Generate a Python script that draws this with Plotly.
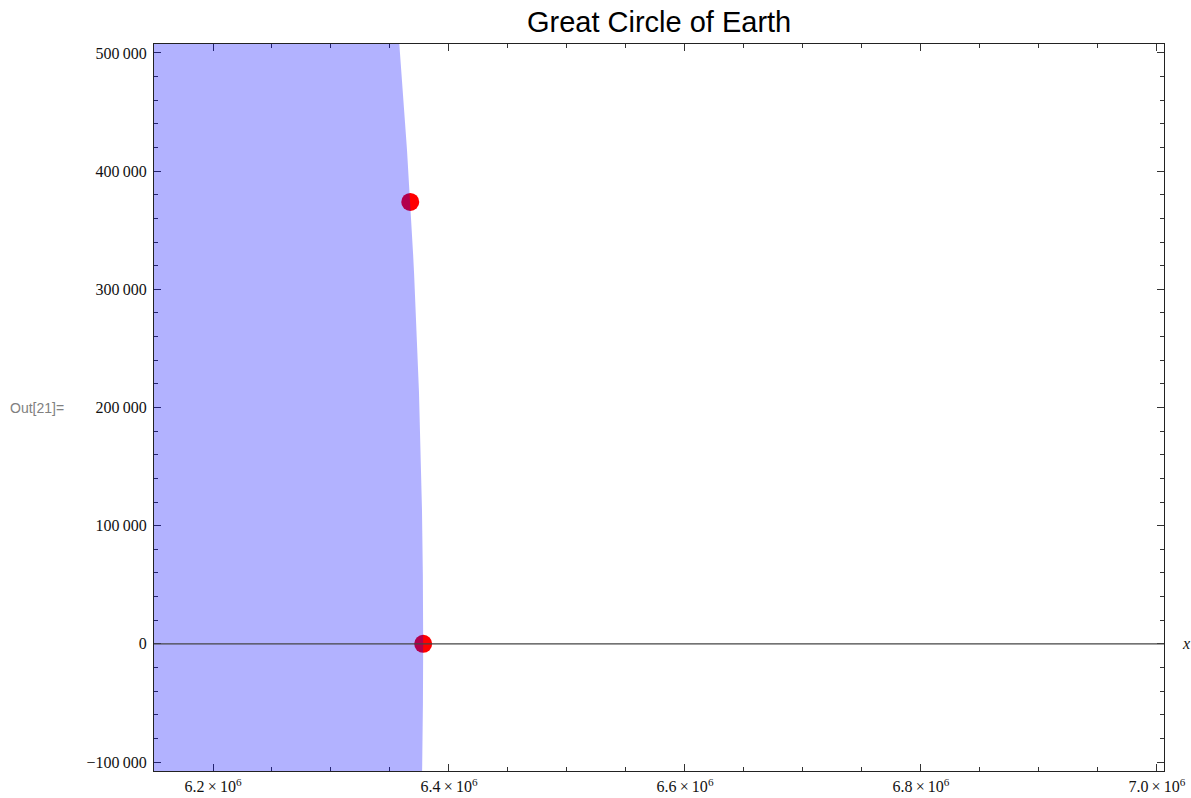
import plotly.graph_objects as go

# Earth's equatorial radius (m) and two marked points on the great circle
earth_radius = 6378137
point_x = [6378137, 6367170]
point_y = [0, 374000]

# Axis ticks
x_tick_vals = [6.2e6, 6.4e6, 6.6e6, 6.8e6, 7.0e6]
x_tick_text = ["6.2\u2009×\u200910<sup>6</sup>", "6.4\u2009×\u200910<sup>6</sup>",
               "6.6\u2009×\u200910<sup>6</sup>", "6.8\u2009×\u200910<sup>6</sup>",
               "7.0\u2009×\u200910<sup>6</sup>"]
y_tick_vals = [-100000, 0, 100000, 200000, 300000, 400000, 500000]
y_tick_text = ["\u2212100\u2009000", "0", "100\u2009000", "200\u2009000",
               "300\u2009000", "400\u2009000", "500\u2009000"]

x_range = [6.15e6, 7.006e6]
y_range = [-107600, 507600]

fig = go.Figure()

fig.add_trace(go.Scatter(
    x=point_x, y=point_y, mode="markers",
    marker=dict(color="#ff0000", size=18, line=dict(width=0)),
    showlegend=False, hoverinfo="skip",
))

# Disk of the Earth, translucent blue over the points
fig.add_shape(
    type="circle", xref="x", yref="y",
    x0=-earth_radius, x1=earth_radius, y0=-earth_radius, y1=earth_radius,
    fillcolor="rgba(0,0,255,0.3)", line=dict(width=0), layer="above",
)
# Horizontal axis at y = 0
fig.add_shape(
    type="line", xref="paper", yref="y", x0=0, x1=1, y0=0, y1=0,
    line=dict(color="#444444", width=1.2), layer="above",
)

fig.update_xaxes(
    range=x_range, showgrid=False, zeroline=False, automargin=False,
    showline=True, linecolor="#222222", linewidth=1.2, mirror="ticks",
    ticks="inside", ticklen=7, tickwidth=1, tickcolor="#333333",
    tickvals=x_tick_vals, ticktext=x_tick_text, ticklabelstandoff=1,
    tickfont=dict(family="Liberation Serif", size=16, color="#111111"),
    minor=dict(ticks="inside", ticklen=4, tickwidth=1, tickcolor="#333333",
               dtick=50000, tick0=6.2e6, showgrid=False),
)
fig.update_yaxes(
    range=y_range, showgrid=False, zeroline=False, automargin=False,
    showline=True, linecolor="#222222", linewidth=1.2, mirror="ticks",
    ticks="inside", ticklen=7, tickwidth=1, tickcolor="#333333",
    tickvals=y_tick_vals, ticktext=y_tick_text, ticklabelstandoff=3,
    tickfont=dict(family="Liberation Serif", size=16, color="#111111"),
    minor=dict(ticks="inside", ticklen=4, tickwidth=1, tickcolor="#333333",
               dtick=20000, tick0=0, showgrid=False),
)

fig.add_annotation(
    text="<i>x</i>", xref="paper", yref="y", x=1.0, y=0,
    xanchor="left", yanchor="middle", xshift=16, showarrow=False,
    font=dict(family="Liberation Serif", size=16, color="#111111"),
)
fig.add_annotation(
    text="Out[21]=", xref="paper", yref="paper", x=-154 / 1010, y=(771 - 408) / 727,
    xanchor="left", yanchor="middle", xshift=8, showarrow=False,
    font=dict(family="Liberation Sans", size=14, color="#808080"),
)

fig.update_layout(
    width=1191, height=798,
    margin=dict(l=154, r=27, t=44, b=27),
    paper_bgcolor="white", plot_bgcolor="white",
    title=dict(text="Great Circle of Earth", x=0.5534, xanchor="center",
               y=1 - 22 / 798, yanchor="middle", yref="container",
               font=dict(family="Liberation Sans", size=29, color="#000000")),
)

fig.write_html("out.html")
